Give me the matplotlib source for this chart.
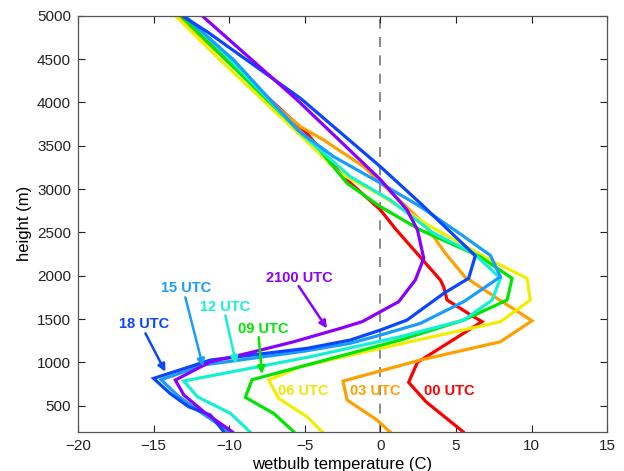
import matplotlib
matplotlib.use("Agg")
import matplotlib.pyplot as plt

# ---- data (wetbulb temperature in C, height in m) ----
t00 = [5.47, 3.02, 1.87, 2.45, 6.72, 5.95, 4.41, 4.19, 3.97, 1.0, 0.0, -2.43, -4.85, -9.9, -13.3]
h00 = [200, 545, 770, 1000, 1470, 1550, 1720, 1870, 1950, 2540, 2760, 3140, 3640, 4450, 5000]

t03 = [0.62, -0.22, -2.2, -2.47, 2.65, 7.94, 10.03, 7.72, 5.6, 4.3, 3.53, 2.65, -1.1, -3.75, -5.29, -6.61, -13.4]
h03 = [200, 335, 565, 784, 1027, 1238, 1480, 1738, 1985, 2258, 2450, 2642, 3258, 3566, 3720, 3912, 5000]

t06 = [-3.86, -4.85, -6.73, -7.39, -5.29, 0.0, 7.94, 9.92, 9.7, 7.28, 3.2, 0.0, -2.65, -5.3, -10.6, -13.56]
h06 = [200, 373, 585, 796, 950, 1162, 1469, 1719, 1970, 2181, 2580, 2931, 3180, 3620, 4489, 5000]

t09 = [-5.73, -7.06, -8.93, -8.49, 1.32, 5.51, 8.38, 8.71, 6.61, 2.65, 0.0, -2.2, -4.19, -5.2, -10.2, -13.2]
h09 = [200, 412, 596, 800, 1258, 1488, 1719, 1970, 2219, 2527, 2796, 3066, 3488, 3640, 4489, 5000]

t12 = [-8.64, -9.92, -12.1, -13.0, -4.63, 1.32, 5.51, 7.39, 7.94, 6.17, 3.53, 0.66, -1.98, -5.3, -9.9, -12.9]
h12 = [200, 412, 603, 785, 1065, 1296, 1488, 1719, 1970, 2258, 2489, 2873, 3142, 3650, 4489, 5000]

t15 = [-10.03, -10.8, -12.1, -13.45, -14.5, -11.7, -5.0, -2.0, 0.0, 2.65, 5.51, 7.94, 7.28, 5.3, 2.65, 0.0, -3.09, -5.4, -9.7, -13.0]
h15 = [200, 296, 450, 623, 800, 970, 1130, 1220, 1315, 1450, 1700, 1988, 2234, 2480, 2796, 3070, 3373, 3670, 4489, 5000]

t18 = [-10.36, -11.24, -12.68, -13.9, -15.0, -11.24, -4.85, -1.98, 0.0, 1.76, 4.19, 5.84, 6.28, 2.65, 0.0, -5.29, -11.46, -13.12]
h18 = [200, 392, 488, 640, 815, 1027, 1162, 1258, 1373, 1488, 1796, 1970, 2230, 2835, 3258, 4047, 4815, 5000]

t21 = [-9.8, -11.6, -13.0, -13.56, -11.24, -8.8, -5.73, -2.65, -1.21, 1.21, 2.31, 2.87, 2.45, 1.76, 0.0, -5.5, -11.8]
h21 = [200, 419, 623, 796, 1007, 1104, 1238, 1392, 1469, 1700, 1950, 2200, 2530, 2760, 3110, 4027, 5000]

series = [
    ("00 UTC", t00, h00, "#ff0000"),
    ("03 UTC", t03, h03, "#ffa000"),
    ("06 UTC", t06, h06, "#f2ee00"),
    ("09 UTC", t09, h09, "#00e600"),
    ("12 UTC", t12, h12, "#14f0d4"),
    ("15 UTC", t15, h15, "#1a9cff"),
    ("18 UTC", t18, h18, "#0a46ff"),
    ("2100 UTC", t21, h21, "#8a00ff"),
]

xticks = [-20, -15, -10, -5, 0, 5, 10, 15]
yticks = [500, 1000, 1500, 2000, 2500, 3000, 3500, 4000, 4500, 5000]

plt.rcParams["font.family"] = ["Liberation Sans", "DejaVu Sans"]

fig = plt.figure(figsize=(6.24, 4.71), dpi=100)
ax = fig.add_axes([0.125, 0.0834, 0.848, 0.8833])

ax.axvline(0, color="#777777", lw=1.2, ls=(0, (6, 5)), zorder=1)

for name, t, h, c in series:
    ax.plot(t, h, color=c, lw=2.3, solid_joinstyle="miter", zorder=2)

# annotations: (label, text xy, arrow tail, arrow head, color)
def lab(txt, x, y, c):
    ax.text(x, y, txt, color=c, fontsize=10.5, fontweight="bold", ha="left", va="center", zorder=4)

lab("00 UTC", 2.9, 669, "#ff0000")
lab("03 UTC", -2.0, 669, "#ffa000")
lab("06 UTC", -6.75, 669, "#f2e600")
lab("09 UTC", -9.45, 1381, "#00e600")
lab("12 UTC", -11.95, 1635, "#14f0d4")
lab("15 UTC", -14.5, 1854, "#1a9cff")
lab("18 UTC", -17.3, 1442, "#0a46ff")
lab("2100 UTC", -7.55, 1970, "#8a00ff")

def arrow(x0, y0, x1, y1, c):
    ax.annotate("", xy=(x1, y1), xytext=(x0, y0),
                arrowprops=dict(arrowstyle="-|>", color=c, lw=1.8, mutation_scale=11,
                                shrinkA=0, shrinkB=0), zorder=4)

arrow(-8.05, 1290, -7.83, 865, "#00e600")
arrow(-10.25, 1540, -9.54, 981, "#14f0d4")
arrow(-12.9, 1750, -11.73, 950, "#1a9cff")
arrow(-15.54, 1335, -14.22, 892, "#0a46ff")
arrow(-5.4, 1880, -3.53, 1392, "#8a00ff")

ax.set_xlim(-20, 15)
ax.set_ylim(200, 5000)
ax.set_xticks(xticks)
ax.set_yticks(yticks)
ax.set_xticklabels(["\u221220", "\u221215", "\u221210", "\u22125", "0", "5", "10", "15"])
ax.tick_params(direction="in", length=5, width=0.8, top=True, right=True,
               labelsize=11, colors="#222222", pad=5)
for s in ax.spines.values():
    s.set_color("#555555")
    s.set_linewidth(0.9)

ax.set_xlabel("wetbulb temperature (C)", fontsize=12, labelpad=3)
ax.set_ylabel("height (m)", fontsize=12, labelpad=4)

fig.savefig("out.png", dpi=100)
